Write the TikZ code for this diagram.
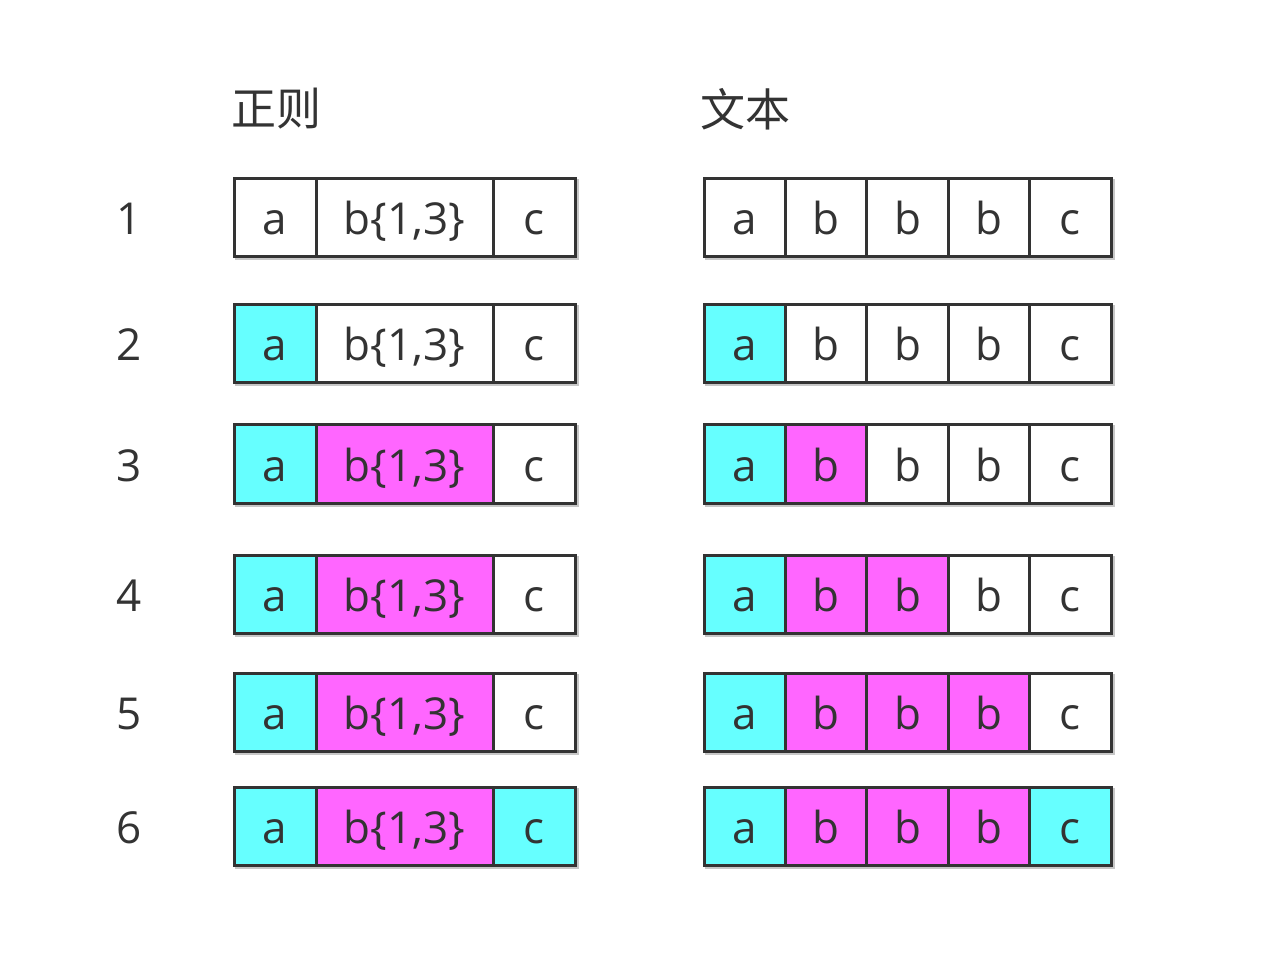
\documentclass[tikz,border=0pt]{standalone}
\usepackage{fontspec}
\setmainfont{Open Sans}
\newfontfamily\cjk{Noto Sans CJK SC}
\definecolor{ink}{HTML}{333333}
\definecolor{cy}{HTML}{66FFFF}
\definecolor{mg}{HTML}{FF66FF}
\tikzset{
  cell/.style={draw=ink, line width=3pt, minimum height=78pt, inner sep=0pt, text=ink,
    font=\fontsize{44}{44}\selectfont, text height=34pt, text depth=0pt},
  narrow/.style={cell, minimum width=82pt},
  wide/.style={cell, minimum width=177pt},
  rcell/.style={cell, minimum width=81.4pt},
  rowlabel/.style={text=ink, inner sep=0pt, font=\fontsize{44}{44}\selectfont, text height=34pt, text depth=0pt},
  head/.style={text=ink, inner sep=0pt, font=\cjk\fontsize{45}{45}\selectfont},
  shade/.style={draw=black!22, line width=3pt}
}
\begin{document}
\begin{tikzpicture}[x=1pt,y=-1pt]
\useasboundingbox[fill=white] (0,0) rectangle (1286,976);
\node[head] (hl) at (276,109) {正则};
\node[head] (hr) at (745,109) {文本};
\foreach \r/\y/\la/\lb/\lc/\ra/\rb/\rc/\rd/\re in {
  1/218/white/white/white/white/white/white/white/white,
  2/344/cy/white/white/cy/white/white/white/white,
  3/464/cy/mg/white/cy/mg/white/white/white,
  4/594/cy/mg/white/cy/mg/mg/white/white,
  5/712/cy/mg/white/cy/mg/mg/mg/white,
  6/826/cy/mg/cy/cy/mg/mg/mg/cy}{
  \draw[shade] (236,\y-37) rectangle (577,\y+41);
  \draw[shade] (706,\y-37) rectangle (1113,\y+41);
  \node[rowlabel] (n\r) at (129,\y) {\r};
  \node[narrow, fill=\la] (L\r a) at (275,\y) {a};
  \node[wide, fill=\lb] (L\r b) at (404.5,\y) {b\{1,3\}};
  \node[narrow, fill=\lc] (L\r c) at (534,\y) {c};
  \node[rcell, fill=\ra] (R\r a) at (744.7,\y) {a};
  \node[rcell, fill=\rb] (R\r b) at (826.1,\y) {b};
  \node[rcell, fill=\rc] (R\r c) at (907.5,\y) {b};
  \node[rcell, fill=\rd] (R\r d) at (988.9,\y) {b};
  \node[rcell, fill=\re] (R\r e) at (1070.3,\y) {c};
}
\end{tikzpicture}
\end{document}
